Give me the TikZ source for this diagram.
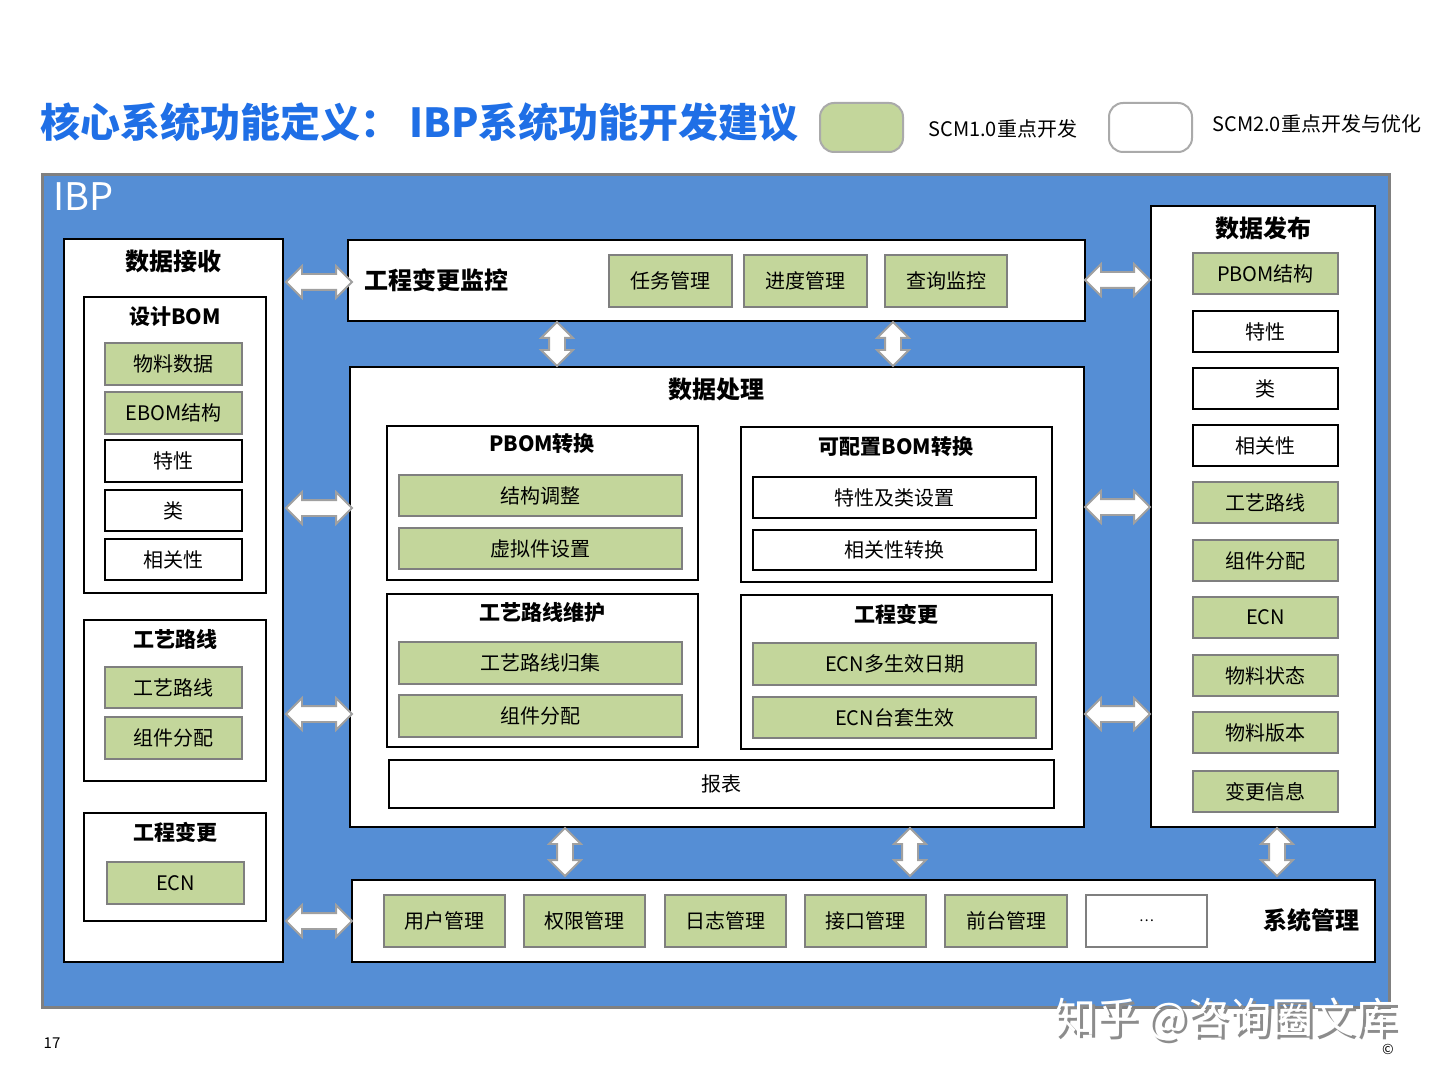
\documentclass[tikz,border=0pt]{standalone}
\usepackage{fontspec}
\setmainfont{Noto Sans CJK SC}
\usetikzlibrary{shapes.arrows}
\definecolor{ibpblue}{HTML}{558ED5}
\definecolor{titleblue}{HTML}{1F6FE6}
\definecolor{gfill}{HTML}{C3D69B}
\definecolor{gline}{HTML}{7F7F7F}
\definecolor{frameline}{HTML}{808080}
\definecolor{arrline}{HTML}{A0A0A0}
\definecolor{legline}{HTML}{AAAAAA}
\newcommand{\bx}[7]{\node[#6, minimum width={(#4-#2)*0.5pt}, minimum height={(#5-#3)*0.5pt}] (#1) at ({(#2+#4)/2},{(#3+#5)/2}) {#7};}
\tikzset{
  basebox/.style={inner sep=0pt, outer sep=0pt, text=black},
  container/.style={basebox, draw=black, fill=white, line width=1.25pt},
  gbox/.style={basebox, draw=gline, fill=gfill, line width=1pt, font=\fontsize{10}{12}\selectfont},
  wbox/.style={basebox, draw=black, fill=white, line width=1pt, font=\fontsize{10}{12}\selectfont},
  gwbox/.style={basebox, draw=gline, fill=white, line width=1pt, font=\fontsize{10}{12}\selectfont},
  bigttl/.style={inner sep=0pt, font=\fontsize{12}{14}\selectfont\bfseries},
  subttl/.style={inner sep=0pt, font=\fontsize{10.5}{12}\selectfont\bfseries},
  dblarr/.style={shape=double arrow, draw=arrline, fill=white, line width=0.9pt,
    inner xsep=0pt, inner ysep=3.5pt, double arrow head extend=4pt,
    minimum height={#1*0.5pt}},
  legbox/.style={basebox, draw=legline, line width=1pt, rounded corners=7pt},
  legtxt/.style={inner sep=0pt, anchor=west, font=\fontsize{10}{12}\selectfont}
}
\begin{document}
\begin{tikzpicture}[x=0.5pt, y=-0.5pt]
\useasboundingbox (0,0) rectangle (1440,1080);
\fill[white] (0,0) rectangle (1440,1080);

% title
\node[inner sep=0pt, anchor=west, text=titleblue, font=\fontsize{20}{24}\selectfont\bfseries] (title) at (40,122) {核心系统功能定义： IBP系统功能开发建议};

% legend
\bx{leg1}{820}{103}{903}{152}{legbox, fill=gfill}{}
\node[legtxt] (leg1t) at (928,129) {SCM1.0重点开发};
\bx{leg2}{1109}{103}{1192}{152}{legbox, fill=white}{}
\node[legtxt] (leg2t) at (1212,124) {SCM2.0重点开发与优化};

% IBP frame
\bx{ibp}{42}{175}{1389}{1007}{basebox, draw=frameline, fill=ibpblue, line width=1.5pt}{}
\node[inner sep=0pt, anchor=west, text=white, font=\fontsize{19}{22}\selectfont] (ibpt) at (53,197) {IBP};

% ---------- data receive ----------
\bx{recv}{64}{239}{283}{962}{container}{}
\node[bigttl] (recvT) at (173,261) {数据接收};
\bx{dbom}{84}{297}{266}{593}{container}{}
\node[subttl] (dbomT) at (175,317) {设计BOM};
\bx{r1}{105}{343}{242}{385}{gbox}{物料数据}
\bx{r2}{105}{392}{242}{434}{gbox}{EBOM结构}
\bx{r3}{105}{440}{242}{482}{wbox}{特性}
\bx{r4}{105}{490}{242}{531}{wbox}{类}
\bx{r5}{105}{539}{242}{580}{wbox}{相关性}
\bx{lroute}{84}{620}{266}{781}{container}{}
\node[subttl] (lrouteT) at (175,639) {工艺路线};
\bx{r6}{105}{667}{242}{708}{gbox}{工艺路线}
\bx{r7}{105}{717}{242}{759}{gbox}{组件分配}
\bx{lecn}{84}{813}{266}{921}{container}{}
\node[subttl] (lecnT) at (175,832) {工程变更};
\bx{r8}{107}{862}{244}{904}{gbox}{ECN}

% ---------- monitoring ----------
\bx{mon}{348}{240}{1085}{321}{container}{}
\node[bigttl, anchor=west] (monT) at (364,280) {工程变更监控};
\bx{m1}{609}{255}{732}{307}{gbox}{任务管理}
\bx{m2}{744}{255}{867}{307}{gbox}{进度管理}
\bx{m3}{885}{255}{1007}{307}{gbox}{查询监控}

% ---------- processing ----------
\bx{proc}{350}{367}{1084}{827}{container}{}
\node[bigttl] (procT) at (716,389) {数据处理};
\bx{pb}{387}{426}{698}{580}{container}{}
\node[subttl] (pbT) at (542,444) {PBOM转换};
\bx{pb1}{399}{475}{682}{516}{gbox}{结构调整}
\bx{pb2}{399}{528}{682}{569}{gbox}{虚拟件设置}
\bx{cb}{741}{427}{1052}{582}{container}{}
\node[subttl] (cbT) at (896,447) {可配置BOM转换};
\bx{cb1}{753}{477}{1036}{518}{wbox}{特性及类设置}
\bx{cb2}{753}{530}{1036}{570}{wbox}{相关性转换}
\bx{rt}{387}{594}{698}{747}{container}{}
\node[subttl] (rtT) at (542,612) {工艺路线维护};
\bx{rt1}{399}{642}{682}{684}{gbox}{工艺路线归集}
\bx{rt2}{399}{695}{682}{737}{gbox}{组件分配}
\bx{ec}{741}{595}{1052}{749}{container}{}
\node[subttl] (ecT) at (896,614) {工程变更};
\bx{ec1}{753}{643}{1036}{685}{gbox}{ECN多生效日期}
\bx{ec2}{753}{697}{1036}{738}{gbox}{ECN台套生效}
\bx{rep}{389}{760}{1054}{808}{wbox}{报表}

% ---------- publish ----------
\bx{pub}{1151}{206}{1375}{827}{container}{}
\node[bigttl] (pubT) at (1263,228) {数据发布};
\bx{p1}{1193}{253}{1338}{294}{gbox}{PBOM结构}
\bx{p2}{1193}{311}{1338}{352}{wbox}{特性}
\bx{p3}{1193}{368}{1338}{409}{wbox}{类}
\bx{p4}{1193}{425}{1338}{466}{wbox}{相关性}
\bx{p5}{1193}{482}{1338}{523}{gbox}{工艺路线}
\bx{p6}{1193}{540}{1338}{581}{gbox}{组件分配}
\bx{p7}{1193}{597}{1338}{638}{gbox}{ECN}
\bx{p8}{1193}{655}{1338}{696}{gbox}{物料状态}
\bx{p9}{1193}{712}{1338}{753}{gbox}{物料版本}
\bx{p10}{1193}{771}{1338}{812}{gbox}{变更信息}

% ---------- system management ----------
\bx{sys}{352}{880}{1375}{962}{container}{}
\node[bigttl, anchor=east] (sysT) at (1360,920) {系统管理};
\bx{s1}{384}{895}{505}{947}{gbox}{用户管理}
\bx{s2}{524}{895}{645}{947}{gbox}{权限管理}
\bx{s3}{665}{895}{786}{947}{gbox}{日志管理}
\bx{s4}{805}{895}{926}{947}{gbox}{接口管理}
\bx{s5}{945}{895}{1067}{947}{gbox}{前台管理}
\bx{s6}{1086}{895}{1207}{947}{gwbox, font=\fontsize{7}{8}\selectfont}{…}

% ---------- arrows ----------
\node[dblarr=66] (aL1) at (319,282) {};
\node[dblarr=66] (aL2) at (319,508) {};
\node[dblarr=66] (aL3) at (319,714) {};
\node[dblarr=66] (aL4) at (319,921) {};
\node[dblarr=65] (aR1) at (1117.5,280) {};
\node[dblarr=65] (aR2) at (1117.5,507) {};
\node[dblarr=65] (aR3) at (1117.5,714) {};
\node[dblarr=44, rotate=90] (aV1) at (557,344) {};
\node[dblarr=44, rotate=90] (aV2) at (893,344) {};
\node[dblarr=48, rotate=90] (aV3) at (565,852) {};
\node[dblarr=48, rotate=90] (aV4) at (910,852) {};
\node[dblarr=48, rotate=90] (aV5) at (1277,852) {};

% page number
\node[inner sep=0pt, font=\fontsize{7.5}{9}\selectfont] (pgno) at (52,1043) {17};

% watermark
\node[inner sep=0pt, text=gray!90, font=\fontsize{21}{24}\selectfont] (wms) at (1229,1022) {知乎 @咨询圈文库};
\node[inner sep=0pt, text=white, font=\fontsize{21}{24}\selectfont] (wm) at (1226,1019) {知乎 @咨询圈文库};
\node[inner sep=0pt, font=\fontsize{7}{8}\selectfont] (copy) at (1388,1049) {©};
\end{tikzpicture}
\end{document}
